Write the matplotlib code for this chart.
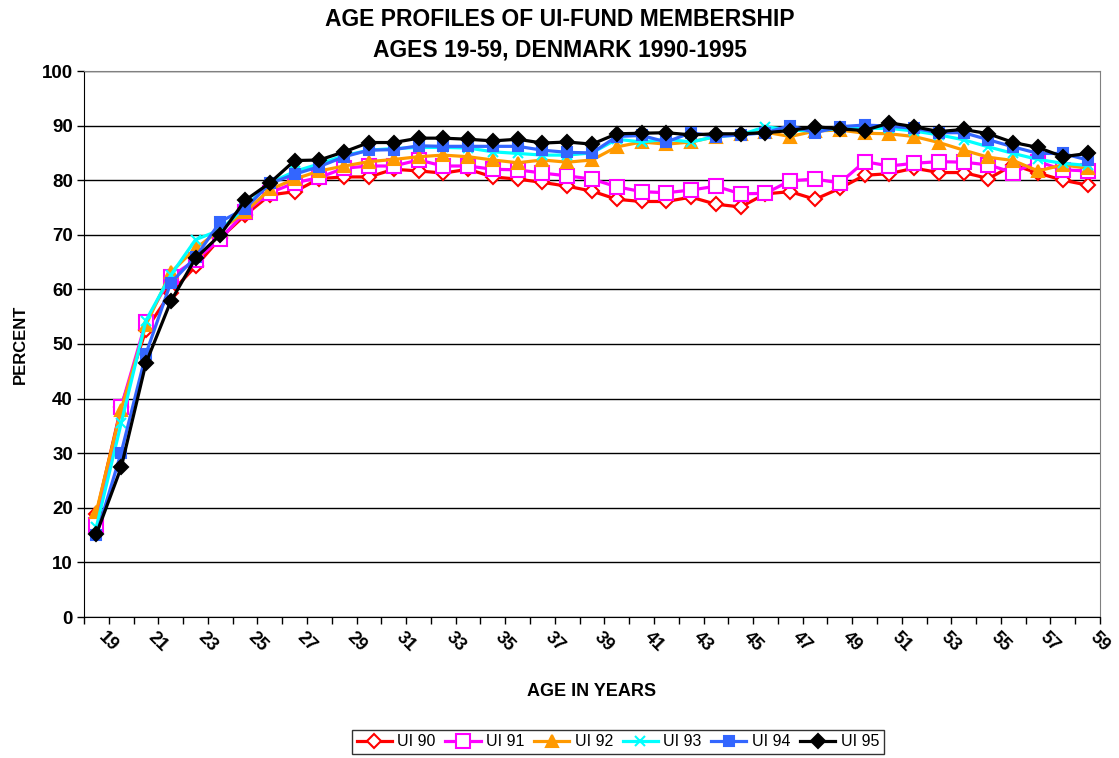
import numpy as np
import matplotlib
matplotlib.use("Agg")
import matplotlib.pyplot as plt
import matplotlib.transforms as mtransforms

plt.rcParams['font.family'] = ['Liberation Sans', 'DejaVu Sans']

# ages 19..59
ages = list(range(19, 60))

ui90 = [18.9, 38.5, 52.6, 59.4, 64.2, 69.4, 73.6, 77.3, 77.9, 80.3,
        80.6, 80.6, 82.0, 81.7, 81.3, 82.0, 80.6, 80.2, 79.6, 78.9,
        78.0, 76.5, 76.1, 76.1, 76.9, 75.6, 75.1, 77.5, 77.9, 76.5,
        78.5, 80.9, 81.2, 82.2, 81.4, 81.4, 80.3, 82.8, 81.3, 80.0, 79.1]
ui91 = [16.8, 38.5, 54.1, 62.3, 65.4, 69.2, 74.2, 77.7, 79.5, 80.5,
        82.2, 82.6, 82.6, 83.7, 82.6, 82.6, 82.0, 81.9, 81.3, 80.8,
        80.2, 78.8, 77.9, 77.7, 78.2, 78.9, 77.5, 77.6, 79.9, 80.2,
        79.5, 83.4, 82.6, 83.1, 83.4, 83.3, 82.8, 81.4, 83.4, 81.9, 81.7]
ui92 = [19.3, 38.0, 53.5, 63.1, 67.5, 70.9, 74.2, 78.3, 80.2, 81.7,
        82.6, 83.4, 83.8, 84.3, 84.6, 84.3, 83.7, 83.2, 83.7, 83.3,
        83.7, 86.1, 87.0, 86.6, 87.0, 88.0, 88.5, 88.8, 88.0, 89.0,
        89.2, 88.6, 88.5, 88.0, 86.9, 85.5, 84.2, 83.6, 81.7, 82.8, 82.2]
ui93 = [16.5, 35.5, 54.3, 62.6, 69.1, 70.9, 75.0, 79.5, 81.6, 83.0,
        84.5, 85.5, 85.8, 86.0, 86.0, 85.9, 85.2, 84.9, 84.6, 84.6,
        85.0, 87.5, 87.0, 87.5, 87.0, 88.0, 88.3, 89.8, 89.2, 89.0,
        89.5, 89.5, 89.5, 89.0, 88.3, 87.4, 86.1, 84.9, 83.8, 83.1, 82.7]
ui94 = [15.0, 30.1, 48.2, 61.2, 65.9, 72.4, 74.8, 79.4, 81.1, 82.5,
        84.3, 85.5, 85.6, 86.3, 86.2, 86.2, 86.2, 86.2, 85.5, 85.1,
        85.0, 88.0, 88.2, 87.0, 88.7, 88.0, 88.3, 88.7, 90.0, 88.7,
        89.8, 90.1, 89.9, 89.5, 88.7, 88.7, 87.4, 86.1, 84.9, 84.9, 83.7]
ui95 = [15.2, 27.4, 46.5, 57.8, 65.7, 70.0, 76.3, 79.5, 83.6, 83.7,
        85.2, 86.9, 86.9, 87.7, 87.7, 87.5, 87.2, 87.5, 86.8, 87.0,
        86.6, 88.5, 88.6, 88.7, 88.3, 88.5, 88.5, 88.7, 89.1, 89.8,
        89.4, 89.1, 90.5, 89.8, 88.9, 89.3, 88.5, 86.9, 86.0, 84.3, 84.9]

series = [
    ("UI 90", ui90, "#FF0000", "D", "white", 7),
    ("UI 91", ui91, "#FF00FF", "s", "white", 10),
    ("UI 92", ui92, "#FF9900", "^", "#FF9900", 8),
    ("UI 93", ui93, "#00FFFF", "x", "#00FFFF", 7),
    ("UI 94", ui94, "#3366FF", "s", "#3366FF", 7),
    ("UI 95", ui95, "#000000", "D", "#000000", 7),
]

fig = plt.figure(figsize=(11.19, 7.58), dpi=100)
ax = fig.add_axes([84/1119, 1-617/758, 1016/1119, 546/758])

x = np.arange(len(ages))
for name, vals, col, mk, fc, ms in series:
    ax.plot(x, vals, color=col, lw=2.3, marker=mk, markersize=ms,
            markerfacecolor=fc, markeredgecolor=col, markeredgewidth=1.5,
            label=name)

ax.set_xlim(-0.5, len(ages) - 0.5)
ax.set_ylim(0, 100)
ax.set_yticks(range(0, 101, 10))
ax.yaxis.grid(True, color='black', lw=1)
ax.set_axisbelow(True)
for lab in ax.get_yticklabels():
    lab.set_fontweight('bold')
    lab.set_fontsize(13.5)
ax.tick_params(axis='y', direction='out', length=5, width=1, pad=3)

# category boundaries as ticks, labels every other age
ax.set_xticks(np.arange(-0.5, len(ages), 1.0))
ax.set_xticklabels([])
ax.set_xticks(x[::2], minor=True)
ax.set_xticklabels([str(a) for a in ages[::2]], minor=True,
                   rotation=-45, ha='left', va='center',
                   rotation_mode='anchor', fontweight='bold', fontsize=13)
ax.tick_params(axis='x', which='major', direction='out', length=5, width=1)
ax.tick_params(axis='x', which='minor', length=0, pad=13)
offset = mtransforms.ScaledTranslation(5/100, 0, fig.dpi_scale_trans)
for lab in ax.xaxis.get_minorticklabels():
    lab.set_transform(lab.get_transform() + offset)

for side in ['top', 'right']:
    ax.spines[side].set_color('#808080')
for side in ['left', 'bottom']:
    ax.spines[side].set_color('black')

ax.set_xlabel('AGE IN YEARS', fontweight='bold', fontsize=13, labelpad=20)
ax.set_ylabel('PERCENT', fontweight='bold', fontsize=12, labelpad=10)

fig.text(0.5, 1-35/758, 'AGE PROFILES OF UI-FUND MEMBERSHIP\nAGES 19-59, DENMARK 1990-1995',
         ha='center', va='center', fontsize=16.5, fontweight='bold', linespacing=1.4)

leg = fig.legend(loc='center', bbox_to_anchor=(618/1119, 1-742/758), ncol=6,
                 frameon=True, fancybox=False, edgecolor='black', fontsize=11.5,
                 handlelength=2.2, columnspacing=0.6, handletextpad=0.35,
                 borderpad=0.3)
leg.get_frame().set_linewidth(1)

fig.savefig('out.png', dpi=100)
